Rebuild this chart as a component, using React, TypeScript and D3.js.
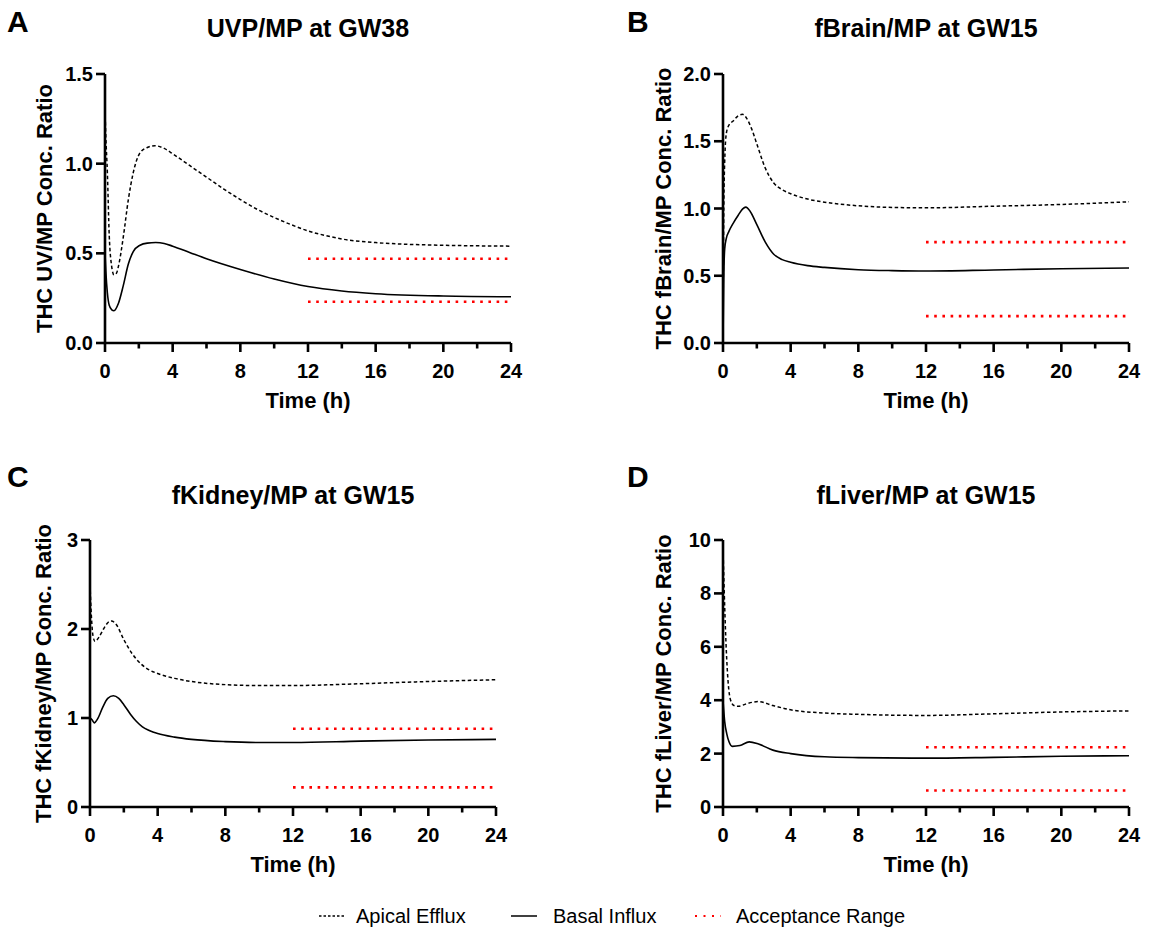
import React from "react";
import * as d3 from "d3";

// ---------- data ----------
const xMajorTicks = [0, 4, 8, 12, 16, 20, 24];
const xMinorTicks = [2, 6, 10, 14, 18, 22];

// Panel A: UVP/MP at GW38
const aApicalT = [0, 0.05, 0.14, 0.25, 0.39, 0.53, 0.68, 0.8, 1.08, 1.38, 1.67, 2.07, 2.5, 2.95, 3.5, 4, 5, 6, 7, 8, 9, 10, 11, 12, 13, 14, 16, 18, 20, 24];
const aApicalV = [1.3, 1.15, 0.95, 0.6, 0.43, 0.38, 0.39, 0.43, 0.59, 0.8, 0.95, 1.06, 1.09, 1.1, 1.085, 1.055, 0.99, 0.925, 0.86, 0.8, 0.745, 0.7, 0.66, 0.625, 0.6, 0.58, 0.56, 0.55, 0.545, 0.54];
const aBasalT = [0, 0.05, 0.14, 0.25, 0.4, 0.53, 0.79, 1.08, 1.38, 1.67, 2.07, 2.5, 3.0, 3.5, 4, 5, 6, 8, 10, 12, 14, 16, 20, 24];
const aBasalV = [0.5, 0.4, 0.28, 0.21, 0.185, 0.18, 0.22, 0.32, 0.44, 0.51, 0.545, 0.557, 0.56, 0.555, 0.54, 0.505, 0.47, 0.41, 0.357, 0.315, 0.29, 0.275, 0.262, 0.258];
const aRange = [0.47, 0.23];
const aYTicks = [0, 0.5, 1.0, 1.5];

// Panel B: fBrain/MP at GW15
const bApicalT = [0, 0.04, 0.1, 0.2, 0.35, 0.6, 0.9, 1.15, 1.4, 1.7, 2.0, 2.5, 3.0, 3.5, 4, 5, 6, 8, 10, 12, 16, 20, 24];
const bApicalV = [0, 0.9, 1.35, 1.56, 1.62, 1.65, 1.69, 1.7, 1.67, 1.59, 1.48, 1.3, 1.19, 1.14, 1.11, 1.07, 1.047, 1.02, 1.008, 1.005, 1.017, 1.03, 1.05];
const bBasalT = [0, 0.04, 0.1, 0.2, 0.35, 0.6, 0.9, 1.15, 1.35, 1.6, 2.0, 2.5, 3.0, 3.5, 4, 5, 6, 8, 10, 12, 16, 20, 24];
const bBasalV = [0, 0.45, 0.7, 0.78, 0.83, 0.89, 0.95, 0.995, 1.01, 0.98, 0.88, 0.75, 0.66, 0.62, 0.6, 0.575, 0.562, 0.545, 0.538, 0.535, 0.543, 0.552, 0.558];
const bRange = [0.75, 0.2];
const bYTicks = [0, 0.5, 1.0, 1.5, 2.0];

// Panel C: fKidney/MP at GW15
const cApicalT = [0, 0.08, 0.18, 0.3, 0.5, 0.8, 1.05, 1.27, 1.55, 2.0, 2.5, 3.0, 3.5, 4, 5, 6, 8, 10, 12, 16, 20, 24];
const cApicalV = [2.5, 2.15, 1.92, 1.86, 1.9, 2.0, 2.07, 2.09, 2.05, 1.88, 1.72, 1.61, 1.54, 1.5, 1.445, 1.41, 1.375, 1.365, 1.365, 1.385, 1.41, 1.43];
const cBasalT = [0, 0.12, 0.25, 0.45, 0.75, 1.05, 1.38, 1.7, 2.0, 2.4, 2.75, 3.1, 3.5, 4, 5, 6, 8, 10, 12, 16, 20, 24];
const cBasalV = [1.0, 0.98, 0.945, 0.99, 1.12, 1.22, 1.25, 1.22, 1.15, 1.04, 0.96, 0.9, 0.86, 0.825, 0.785, 0.76, 0.735, 0.725, 0.725, 0.74, 0.752, 0.76];
const cRange = [0.88, 0.22];
const cYTicks = [0, 1, 2, 3];

// Panel D: fLiver/MP at GW15
const dApicalT = [0, 0.1, 0.2, 0.3, 0.45, 0.65, 0.9, 1.4, 2.1, 2.95, 4, 6, 8, 12, 16, 20, 24];
const dApicalV = [9.7, 7.5, 5.8, 4.7, 4.0, 3.8, 3.77, 3.87, 3.95, 3.8, 3.64, 3.52, 3.47, 3.43, 3.49, 3.56, 3.6];
const dBasalT = [0, 0.1, 0.22, 0.35, 0.55, 1.0, 1.55, 2.1, 2.95, 4, 6, 8, 12, 16, 20, 24];
const dBasalV = [4.0, 3.2, 2.75, 2.45, 2.27, 2.3, 2.44, 2.36, 2.13, 2.0, 1.88, 1.85, 1.83, 1.86, 1.9, 1.92];
const dRange = [2.24, 0.62];
const dYTicks = [0, 2, 4, 6, 8, 10];

const rangeStart = 12;
const rangeEnd = 24;

const legendLabels = ["Apical Efflux", "Basal Influx", "Acceptance Range"];

// ---------- layout ----------
const FONT = "'Liberation Sans', Arial, Helvetica, sans-serif";

type PanelProps = {
  letter: string;
  title: string;
  yLabel: string;
  x0: number;
  x1: number;
  yTop: number;
  yBot: number;
  letterX: number;
  letterY: number;
  titleY: number;
  yLabelX: number;
  yTicks: number[];
  yFmt: (v: number) => string;
  apicalT: number[];
  apicalV: number[];
  basalT: number[];
  basalV: number[];
  range: number[];
};

function Panel(p: PanelProps) {
  const x = d3.scaleLinear().domain([0, 24]).range([p.x0, p.x1]);
  const y = d3
    .scaleLinear()
    .domain([0, p.yTicks[p.yTicks.length - 1]])
    .range([p.yBot, p.yTop]);
  const line = d3
    .line<[number, number]>()
    .x((d) => x(d[0]))
    .y((d) => y(d[1]))
    .curve(d3.curveMonotoneX);
  const apical = p.apicalT.map((t, i) => [t, p.apicalV[i]] as [number, number]);
  const basal = p.basalT.map((t, i) => [t, p.basalV[i]] as [number, number]);
  const cx = (p.x0 + p.x1) / 2;
  const cy = (p.yTop + p.yBot) / 2;
  const axisW = 2.6;
  return (
    <g>
      <text x={p.letterX} y={p.letterY} fontFamily={FONT} fontWeight="bold" fontSize={30} fill="#000">
        {p.letter}
      </text>
      <text x={cx} y={p.titleY} textAnchor="middle" fontFamily={FONT} fontWeight="bold" fontSize={25} fill="#000">
        {p.title}
      </text>
      {p.range.map((v, i) => (
        <line
          key={"r" + i}
          x1={x(rangeStart)}
          x2={x(rangeEnd)}
          y1={y(v)}
          y2={y(v)}
          stroke="#ff0000"
          strokeWidth={2.6}
          strokeDasharray="2.6 5.6"
        />
      ))}
      <path d={line(apical) || ""} fill="none" stroke="#000" strokeWidth={1.5} strokeDasharray="3.5 2.5" />
      <path d={line(basal) || ""} fill="none" stroke="#000" strokeWidth={1.6} />
      <path
        d={`M${p.x0},${p.yTop} V${p.yBot} H${p.x1}`}
        fill="none"
        stroke="#000"
        strokeWidth={axisW}
        strokeLinejoin="miter"
      />
      {p.yTicks.map((t) => (
        <g key={"yt" + t}>
          <line x1={p.x0 - 9} x2={p.x0} y1={y(t)} y2={y(t)} stroke="#000" strokeWidth={axisW} />
          <text
            x={p.x0 - 12}
            y={y(t) + 7}
            textAnchor="end"
            fontFamily={FONT}
            fontWeight="bold"
            fontSize={20}
            fill="#000"
          >
            {p.yFmt(t)}
          </text>
        </g>
      ))}
      {xMajorTicks.map((t) => (
        <g key={"xt" + t}>
          <line x1={x(t)} x2={x(t)} y1={p.yBot} y2={p.yBot + 9} stroke="#000" strokeWidth={axisW} />
          <text
            x={x(t)}
            y={p.yBot + 35}
            textAnchor="middle"
            fontFamily={FONT}
            fontWeight="bold"
            fontSize={20}
            fill="#000"
          >
            {t}
          </text>
        </g>
      ))}
      {xMinorTicks.map((t) => (
        <line key={"xm" + t} x1={x(t)} x2={x(t)} y1={p.yBot} y2={p.yBot + 5.5} stroke="#000" strokeWidth={axisW} />
      ))}
      <text x={cx} y={p.yBot + 65} textAnchor="middle" fontFamily={FONT} fontWeight="bold" fontSize={22} fill="#000">
        Time (h)
      </text>
      <text
        transform={`translate(${p.yLabelX},${cy}) rotate(-90)`}
        textAnchor="middle"
        fontFamily={FONT}
        fontWeight="bold"
        fontSize={22}
        fill="#000"
      >
        {p.yLabel}
      </text>
    </g>
  );
}

const f1 = d3.format(".1f");
const f0 = d3.format("d");

export default function App() {
  const legendY = 916;
  return (
    <svg
      width={1149}
      height={932}
      style={{ position: "absolute", left: 0, top: 0, background: "#fff" }}
    >
      <rect x={0} y={0} width={1149} height={932} fill="#fff" />
      <Panel
        letter="A"
        title="UVP/MP at GW38"
        yLabel="THC UV/MP Conc. Ratio"
        x0={105}
        x1={511}
        yTop={74}
        yBot={343}
        letterX={7}
        letterY={32}
        titleY={37}
        yLabelX={52}
        yTicks={aYTicks}
        yFmt={f1}
        apicalT={aApicalT}
        apicalV={aApicalV}
        basalT={aBasalT}
        basalV={aBasalV}
        range={aRange}
      />
      <Panel
        letter="B"
        title="fBrain/MP at GW15"
        yLabel="THC fBrain/MP Conc. Ratio"
        x0={723}
        x1={1129}
        yTop={74}
        yBot={343}
        letterX={627}
        letterY={32}
        titleY={37}
        yLabelX={671}
        yTicks={bYTicks}
        yFmt={f1}
        apicalT={bApicalT}
        apicalV={bApicalV}
        basalT={bBasalT}
        basalV={bBasalV}
        range={bRange}
      />
      <Panel
        letter="C"
        title="fKidney/MP at GW15"
        yLabel="THC fKidney/MP Conc. Ratio"
        x0={90}
        x1={496}
        yTop={540}
        yBot={807}
        letterX={7}
        letterY={487}
        titleY={504}
        yLabelX={51}
        yTicks={cYTicks}
        yFmt={f0}
        apicalT={cApicalT}
        apicalV={cApicalV}
        basalT={cBasalT}
        basalV={cBasalV}
        range={cRange}
      />
      <Panel
        letter="D"
        title="fLiver/MP at GW15"
        yLabel="THC fLiver/MP Conc. Ratio"
        x0={723}
        x1={1129}
        yTop={540}
        yBot={807}
        letterX={627}
        letterY={487}
        titleY={504}
        yLabelX={671}
        yTicks={dYTicks}
        yFmt={f0}
        apicalT={dApicalT}
        apicalV={dApicalV}
        basalT={dBasalT}
        basalV={dBasalV}
        range={dRange}
      />
      <g fontFamily={FONT} fontSize={20} fill="#000">
        <line x1={319} x2={344} y1={legendY} y2={legendY} stroke="#000" strokeWidth={1.3} strokeDasharray="2.5 2" />
        <text x={356} y={legendY + 7}>{legendLabels[0]}</text>
        <line x1={511} x2={537} y1={legendY} y2={legendY} stroke="#000" strokeWidth={1.5} />
        <text x={553} y={legendY + 7}>{legendLabels[1]}</text>
        <line x1={695} x2={721} y1={legendY} y2={legendY} stroke="#ff0000" strokeWidth={2} strokeDasharray="2 6.5" />
        <text x={736} y={legendY + 7}>{legendLabels[2]}</text>
      </g>
    </svg>
  );
}
